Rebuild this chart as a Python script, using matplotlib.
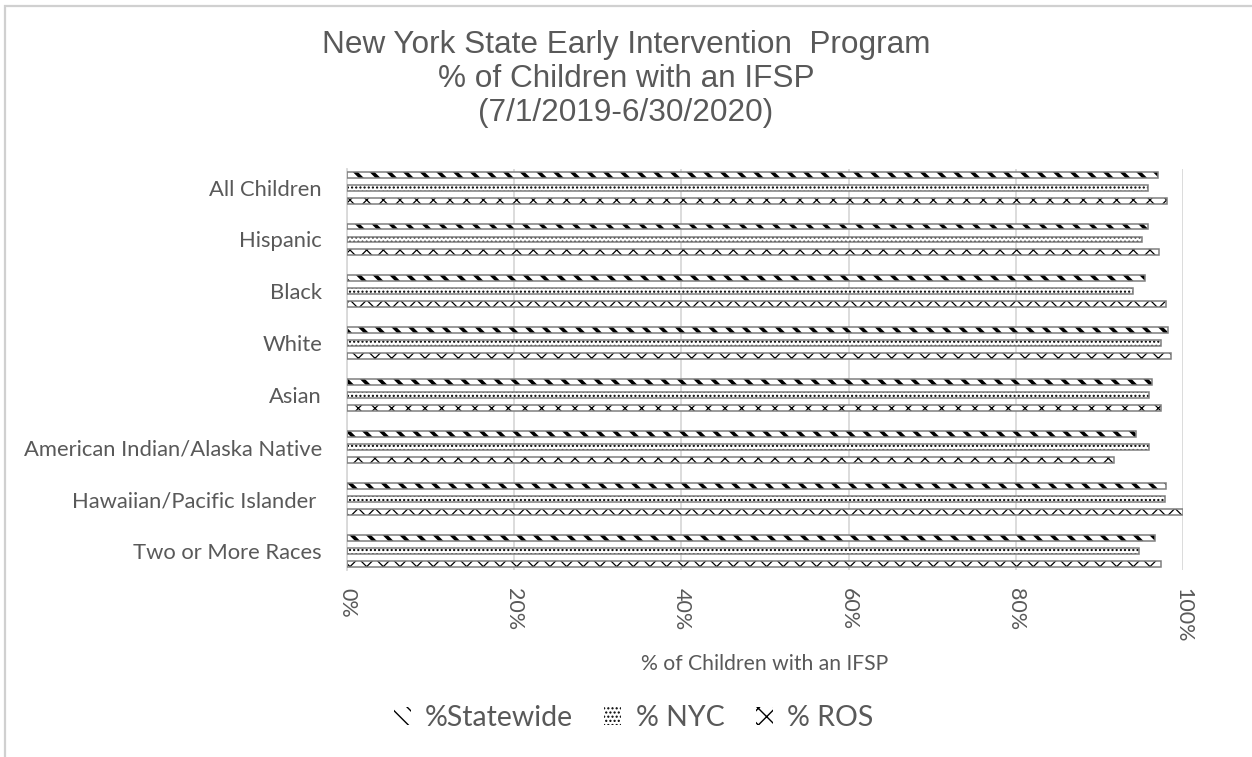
import numpy as np
import matplotlib
matplotlib.use("Agg")
import matplotlib.pyplot as plt
from matplotlib.patches import Rectangle

# values (% of children with an IFSP)
groups = ["All Children", "Hispanic", "Black", "White", "Asian",
          "American Indian/Alaska Native", "Hawaiian/Pacific Islander ",
          "Two or More Races"]
statewide = [97.0, 95.8, 95.5, 98.2, 96.3, 94.4, 98.0, 96.7]
nyc = [95.8, 95.1, 94.0, 97.4, 95.9, 95.9, 97.8, 94.7]
ros = [98.1, 97.1, 98.0, 98.6, 97.4, 91.8, 100.0, 97.4]
series_names = ["%Statewide", "% NYC", "% ROS"]
xticks = [0, 20, 40, 60, 80, 100]

TXT = "#595959"
LABEL_FONT = ["Lato", "DejaVu Sans"]
TITLE_FONT = ["Liberation Sans", "DejaVu Sans"]

fig = plt.figure(figsize=(12.52, 7.57), dpi=100)
ax = fig.add_axes([0.2772, 0.247, 0.6677, 0.530])

# light frame around the chart area (right/bottom run off the picture)
fig.patches.append(Rectangle((5 / 1252, -0.05), 1.2, (757 - 6) / 757 + 0.05,
                             transform=fig.transFigure, fill=False,
                             edgecolor="#d0d0d0", linewidth=1.6, zorder=0))

y = np.arange(len(groups))
h = 0.115
offs = [-0.25, 0.0, 0.25]
hatches = ["\\\\", "....", "xx"]
hlw = [2.6, 1.0, 0.9]
handles = []
for vals, off, hat, lw, name in zip([statewide, nyc, ros], offs, hatches, hlw, series_names):
    bars = ax.barh(y + off, vals, height=h, color="white", edgecolor="black",
                   linewidth=0, hatch=hat, zorder=2, label=name)
    for b in bars:
        if hasattr(b, "set_hatch_linewidth"):
            b.set_hatch_linewidth(lw)
    ax.barh(y + off, vals, height=h, fill=False, edgecolor="#7f7f7f",
            linewidth=1.1, zorder=3)
    handles.append(bars)

ax.set_xlim(0, 100)
ax.set_ylim(len(groups) - 1 + 0.36, -0.36)
ax.set_xticks(xticks)
ax.set_xticklabels([f"{t}%" for t in xticks], rotation=-90, fontsize=15.5,
                   color=TXT, family=LABEL_FONT)
ax.set_yticks(y)
ax.set_yticklabels(groups, fontsize=15.8, color=TXT, family=LABEL_FONT)
ax.tick_params(axis="both", length=0)
ax.tick_params(axis="y", pad=18)
ax.tick_params(axis="x", pad=13)
ax.grid(axis="x", color="#d9d9d9", linewidth=1.3, zorder=0)
ax.set_axisbelow(True)
for s in ["top", "right", "bottom"]:
    ax.spines[s].set_visible(False)
ax.spines["left"].set_color("#d9d9d9")
ax.spines["left"].set_linewidth(1.3)

ax.set_xlabel("% of Children with an IFSP", fontsize=15.2, color=TXT,
              family=LABEL_FONT, labelpad=8)

fig.text(0.5, 1 - 79 / 757, "New York State Early Intervention  Program\n% of Children with an IFSP\n(7/1/2019-6/30/2020)",
         ha="center", va="center", fontsize=22.7, color=TXT, family=TITLE_FONT,
         linespacing=1.17)

leg = fig.legend(handles=handles, labels=series_names, loc="center",
                 bbox_to_anchor=(0.506, 0.051), ncol=3, frameon=False,
                 fontsize=20.5, handlelength=0.6, handleheight=0.6,
                 handletextpad=0.5, columnspacing=1.1)
for t in leg.get_texts():
    t.set_color(TXT)
    t.set_family(LABEL_FONT)

fig.savefig("out.png", dpi=100)
